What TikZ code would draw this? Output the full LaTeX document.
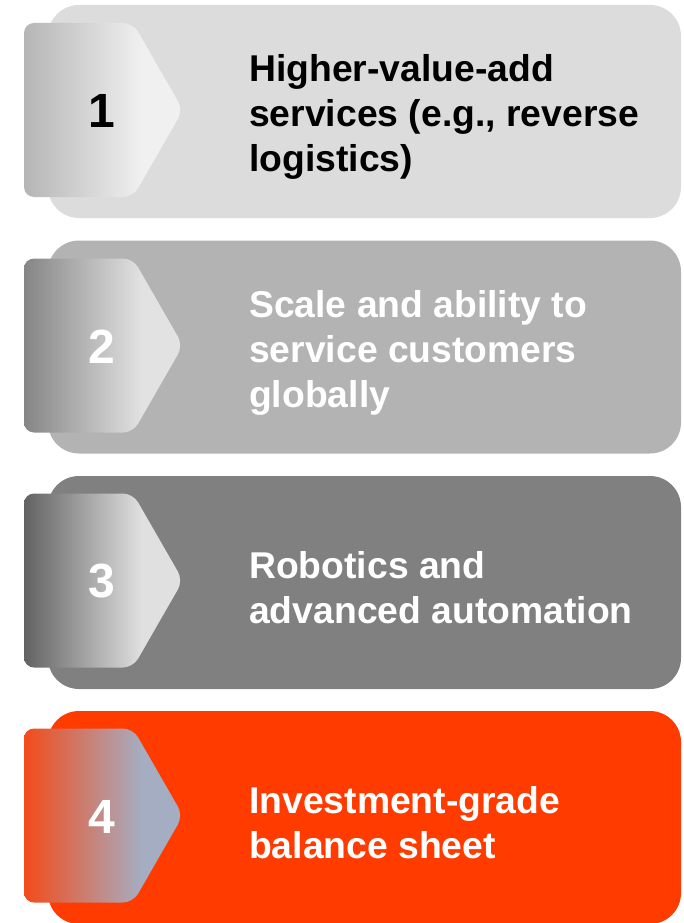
\documentclass[tikz,border=0pt]{standalone}
\usepackage{fontspec}
\setmainfont{Liberation Sans}
\definecolor{boxA}{HTML}{DCDCDC}
\definecolor{boxB}{HTML}{B3B3B3}
\definecolor{boxC}{HTML}{808080}
\definecolor{boxD}{HTML}{FF3B00}
\definecolor{chAl}{HTML}{B5B5B5}
\definecolor{chAr}{HTML}{F0F0F0}
\definecolor{chBl}{HTML}{858585}
\definecolor{chBr}{HTML}{E2E2E2}
\definecolor{chCl}{HTML}{626262}
\definecolor{chCr}{HTML}{E0E0E0}
\definecolor{chDl}{HTML}{F34B1A}
\definecolor{chDr}{HTML}{A5ADC2}
\pgfdeclarehorizontalshading{shA}{100bp}{color(0bp)=(chAl); color(25bp)=(chAl); color(62bp)=(chAr); color(100bp)=(chAr)}
\pgfdeclarehorizontalshading{shB}{100bp}{color(0bp)=(chBl); color(25bp)=(chBl); color(62bp)=(chBr); color(100bp)=(chBr)}
\pgfdeclarehorizontalshading{shC}{100bp}{color(0bp)=(chCl); color(25bp)=(chCl); color(62bp)=(chCr); color(100bp)=(chCr)}
\pgfdeclarehorizontalshading{shD}{100bp}{color(0bp)=(chDl); color(25bp)=(chDl); color(62bp)=(chDr); color(100bp)=(chDr)}
\begin{document}
\begin{tikzpicture}[x=1pt,y=-1pt,
  panel/.style={rounded corners=31pt},
  chev/.style={rounded corners=10pt},
  numlbl/.style={inner sep=0pt,font=\fontsize{48}{48}\selectfont\bfseries},
  desclbl/.style={inner sep=0pt,anchor=west,align=left,font=\fontsize{37.3}{45}\selectfont\bfseries}]
\useasboundingbox (0,0) rectangle (683,923);
\begin{scope}
\clip (0,0) rectangle (683,923);
% panels
\fill[boxA,panel] (48,5) rectangle (681,218);
\fill[boxB,panel] (48,240.5) rectangle (681,453.5);
\fill[boxC,panel] (48,476) rectangle (681,689);
\fill[boxD,panel] (48,711) rectangle (681,924);
% chevrons
\shade[shading=shA,chev] (24,23) -- (133,23) -- (183,110) -- (133,197) -- (24,197) -- cycle;
\shade[shading=shB,chev] (24,258.5) -- (133,258.5) -- (183,345.5) -- (133,432.5) -- (24,432.5) -- cycle;
\shade[shading=shC,chev] (24,493.5) -- (133,493.5) -- (183,580.5) -- (133,667.5) -- (24,667.5) -- cycle;
\shade[shading=shD,chev] (24,728.5) -- (133,728.5) -- (183,815.5) -- (133,902.5) -- (24,902.5) -- cycle;
\end{scope}
% numbers
\node[numlbl,text=black] (n1) at (102,111) {1};
\node[numlbl,text=white] (n2) at (102,346.5) {2};
\node[numlbl,text=white] (n3) at (102,581.5) {3};
\node[numlbl,text=white] (n4) at (102,816.5) {4};
% descriptions
\node[desclbl,text=black] (t1) at (249,117) {Higher-value-add\\services (e.g., reverse\\logistics)};
\node[desclbl,text=white] (t2) at (249,352.5) {Scale and ability to\\service customers\\globally};
\node[desclbl,text=white] (t3) at (249,587.5) {Robotics and\\advanced automation};
\node[desclbl,text=white] (t4) at (249,822.5) {Investment-grade\\balance sheet};
\end{tikzpicture}
\end{document}
